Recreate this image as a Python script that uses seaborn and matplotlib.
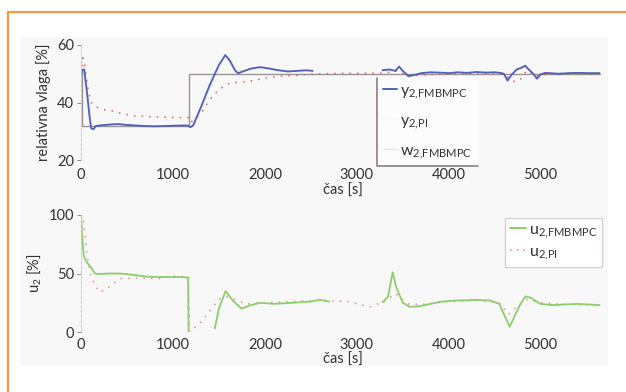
import numpy as np
import pandas as pd
import matplotlib
matplotlib.use("Agg")
import matplotlib.pyplot as plt
import seaborn as sns
from matplotlib.patches import Rectangle
from matplotlib.lines import Line2D

sns.set_style("white")
plt.rcParams['font.family'] = ['Lato', 'DejaVu Sans']
plt.rcParams['mathtext.fontset'] = 'custom'
plt.rcParams['mathtext.rm'] = 'Lato'

# ---------------- data ----------------
# top: relative humidity
t_w = [0, 15, 15, 1180, 1180, 5650]
w_fmb = [51, 51, 32, 32, 50, 50]

t_y_fmb_a = [0, 15, 35, 60, 90, 110, 135, 160, 200, 300, 400, 500, 600, 700, 800,
             900, 1000, 1100, 1160, 1190, 1220, 1300, 1400, 1500, 1570, 1620, 1680,
             1710, 1760, 1850, 1950, 2050, 2150, 2250, 2350, 2450, 2520]
y_fmb_a = [50, 51.3, 51.5, 45, 36, 31, 30.7, 31.8, 32, 32.3, 32.5, 32.2, 32, 31.8, 31.7,
           31.8, 31.9, 32, 32, 31.4, 32, 38, 46, 53, 56.5, 54.5, 51, 50.2, 50.8, 51.8,
           52.3, 51.8, 51.2, 50.8, 51, 51.2, 51]
t_y_fmb_b = [3280, 3350, 3420, 3460, 3500, 3560, 3620, 3700, 3800, 3900, 4000, 4100,
             4200, 4300, 4400, 4500, 4560, 4600, 4640, 4680, 4740, 4800, 4830, 4870,
             4920, 4960, 5000, 5050, 5100, 5200, 5300, 5400, 5500, 5640]
y_fmb_b = [51.2, 51.5, 51, 52.5, 51, 49.2, 49.5, 50.2, 50.5, 50.4, 50.2, 50.5, 50.3,
           50.6, 50.4, 50.5, 50.3, 50, 47.6, 49.5, 51.5, 52.2, 52.8, 51.5, 50, 48.3,
           49.8, 50.3, 50.2, 50, 50.2, 50.3, 50.2, 50.2]

t_y_pi = [0, 20, 40, 60, 80, 110, 160, 250, 350, 450, 600, 800, 1000, 1170, 1190,
          1300, 1400, 1500, 1600, 1700, 1800, 1900, 2000, 2200, 2400, 2600, 3000,
          3300, 3450, 3550, 3700, 4000, 4300, 4600, 4650, 4720, 4780, 4850, 4950,
          5100, 5400, 5640]
y_pi = [50, 55.5, 53, 48, 44, 40, 38.5, 37.5, 37, 36, 35.3, 35, 34.8, 34.7, 33,
        36, 41, 44.5, 46.5, 47, 47.2, 47.8, 48.5, 49.2, 49.6, 50, 50.2,
        50.3, 51, 49, 49.6, 50, 50.1, 49.8, 48.5, 47.2, 48, 51.2, 49.2,
        50, 50.1, 50]

# bottom: control signal
t_u_fmb_a = [0, 10, 30, 60, 90, 120, 150, 200, 300, 400, 500, 600, 700, 800, 900,
             1000, 1100, 1165, 1170]
u_fmb_a = [100, 85, 65, 60, 57, 54, 50, 49.5, 50, 50, 49.5, 48.5, 47.5, 47, 47,
           47, 47, 46.5, 0]
t_u_fmb_b = [1456, 1500, 1573, 1650, 1746, 1850, 1950, 2100, 2300, 2500, 2600, 2700]
u_fmb_b = [3, 20, 35, 27, 20, 23, 25, 24, 25, 26, 27.5, 26]
t_u_fmb_c = [3280, 3340, 3390, 3430, 3500, 3576, 3680, 3800, 3900, 4000, 4100, 4200,
             4300, 4400, 4450, 4550, 4620, 4663, 4720, 4780, 4837, 4900, 4935, 5000,
             5130, 5250, 5400, 5520, 5640]
u_fmb_c = [25.5, 30, 51, 38, 25, 21.5, 22, 24, 25.7, 26.5, 27, 27, 27.5, 27, 27,
           24, 12, 4.5, 14, 24, 30.5, 29, 27, 24, 23, 23.5, 24, 23.5, 23]

t_u_pi = [0, 20, 60, 100, 150, 206, 280, 420, 600, 860, 967, 1100, 1170, 1180, 1300,
          1400, 1500, 1600, 1800, 2000, 2300, 2600, 2900, 3140, 3300, 3420, 3550,
          3700, 4000, 4300, 4550, 4650, 4720, 4850, 5000, 5300, 5640]
u_pi = [100, 100, 70, 50, 40, 34, 37, 45.6, 46, 45.6, 48, 47.5, 47, 0, 8,
        18, 28, 30, 24, 25, 26, 27, 26, 21.5, 26, 33, 24, 23.5, 26, 27, 25, 15, 20,
        28, 25, 23.5, 23]

# ---------------- figure ----------------
W, H = 626, 392
fig = plt.figure(figsize=(W / 100, H / 100), dpi=100)
fig.patch.set_facecolor('white')

# light panel and orange frame
fig.patches.append(Rectangle((20 / W, 1 - 366 / H), 588 / W, 329 / H,
                             transform=fig.transFigure, facecolor='#f8f8f8',
                             edgecolor='none', zorder=-10))
fig.patches.append(Rectangle((8 / W, -0.05), 1.2, 1 - 12 / H + 0.05,
                             transform=fig.transFigure, facecolor='none',
                             edgecolor='#f39a45', linewidth=1.6, zorder=-9))

left = 81 / W
width = 524 / W
ax1 = fig.add_axes([left, 1 - 160 / H, width, 115 / H])
ax2 = fig.add_axes([left, 1 - 332 / H, width, 117 / H])

c_blue = '#5260b8'
c_gray = '#8c8282'
c_red = '#e25c5c'
c_green = '#8ccd6e'
c_pink = '#e88c8c'
txt = '#333333'


def seg_df(ts, vs):
    rows = []
    for i, (t, v) in enumerate(zip(ts, vs)):
        for a, b in zip(t, v):
            rows.append((a, b, i))
    return pd.DataFrame(rows, columns=['t', 'v', 'seg'])


# top axes
sns.lineplot(data=seg_df([t_w], [w_fmb]), x='t', y='v', units='seg', estimator=None,
             sort=False, color=c_gray, linewidth=1.0, alpha=0.85, ax=ax1)
sns.lineplot(data=seg_df([t_y_pi], [y_pi]), x='t', y='v', units='seg', estimator=None,
             sort=False, color=c_red, linewidth=1.1, linestyle=(0, (1, 4)), ax=ax1)
sns.lineplot(data=seg_df([t_y_fmb_a, t_y_fmb_b], [y_fmb_a, y_fmb_b]), x='t', y='v',
             units='seg', estimator=None, sort=False, color=c_blue, linewidth=1.35, ax=ax1)

# bottom axes
sns.lineplot(data=seg_df([t_u_pi], [u_pi]), x='t', y='v', units='seg', estimator=None,
             sort=False, color=c_pink, linewidth=1.1, linestyle=(0, (1, 4)), ax=ax2)
sns.lineplot(data=seg_df([t_u_fmb_a, t_u_fmb_b, t_u_fmb_c], [u_fmb_a, u_fmb_b, u_fmb_c]),
             x='t', y='v', units='seg', estimator=None, sort=False, color=c_green,
             linewidth=1.3, ax=ax2)

for ax, yt, ylim, ylab in [(ax1, [20, 40, 60], (20, 60), 'relativna vlaga [%]'),
                           (ax2, [0, 50, 100], (0, 100), r'$\mathregular{u_2}$ [%]')]:
    ax.set_facecolor('none')
    ax.set_xlim(0, 5700)
    ax.set_ylim(*ylim)
    ax.set_yticks(yt)
    ax.set_xticks([0, 1000, 2000, 3000, 4000, 5000])
    ax.set_xticks([3000], minor=True)
    for s in ['top', 'right', 'bottom']:
        ax.spines[s].set_visible(False)
    ax.spines['left'].set_color('#c8c8c8')
    ax.spines['left'].set_linewidth(0.7)
    ax.spines['left'].set_linestyle((0, (3, 2)))
    ax.tick_params(axis='y', left=True, length=3, width=0.7, color='#888888',
                   labelsize=10.5, labelcolor=txt, pad=2)
    ax.tick_params(axis='x', which='major', bottom=False, length=0,
                   labelsize=10.5, labelcolor=txt, pad=4)
    ax.tick_params(axis='x', which='minor', bottom=True, top=True, direction='in',
                   length=5, width=0.9, color='#666666')
    ax.set_xlabel('čas [s]', fontsize=10.5, color=txt, labelpad=1)
    ax.set_ylabel(ylab, fontsize=10.5, color=txt, labelpad=4)

ax1.tick_params(axis='x', which='major', pad=6)

# legends
h1 = [Line2D([], [], color=c_blue, lw=1.4),
      Line2D([], [], color=c_red, lw=0.8, ls=(0, (1, 3)), alpha=0.2),
      Line2D([], [], color=c_gray, lw=0.8, alpha=0.2)]
l1 = [r'$\mathregular{y_{2{,}FMBMPC}}$', r'$\mathregular{y_{2{,}PI}}$',
      r'$\mathregular{w_{2{,}FMBMPC}}$']
leg1 = ax1.legend(h1, l1, loc='upper left', bbox_to_anchor=(377 / W, 1 - 78 / H),
                  bbox_transform=fig.transFigure, fontsize=11.5, frameon=True,
                  fancybox=False, edgecolor='none', facecolor='white',
                  framealpha=0.6, handlelength=0.9, handletextpad=0.2,
                  labelspacing=0.8, borderpad=0.35, borderaxespad=0)
for t in leg1.get_texts():
    t.set_color(txt)
fig.canvas.draw()
bb = leg1.get_window_extent().transformed(fig.transFigure.inverted())
fig.add_artist(Line2D([bb.x0, bb.x0, bb.x1], [bb.y1, bb.y0, bb.y0],
                      transform=fig.transFigure, color='#8a8080', lw=1.2))

h2 = [Line2D([], [], color=c_green, lw=1.4),
      Line2D([], [], color=c_pink, lw=1.2, ls=(0, (1, 3)))]
l2 = [r'$\mathregular{u_{2{,}FMBMPC}}$', r'$\mathregular{u_{2{,}PI}}$']
leg2 = ax2.legend(h2, l2, loc='upper left', bbox_to_anchor=(505 / W, 1 - 218 / H),
                  bbox_transform=fig.transFigure, fontsize=11.5, frameon=True,
                  fancybox=False, edgecolor='#d8d0d0', facecolor='white',
                  framealpha=1, handlelength=1.0, handletextpad=0.2,
                  labelspacing=0.3, borderpad=0.3, borderaxespad=0)
leg2.get_frame().set_linewidth(1.0)
for t in leg2.get_texts():
    t.set_color(txt)

fig.savefig('out.png', dpi=100)
